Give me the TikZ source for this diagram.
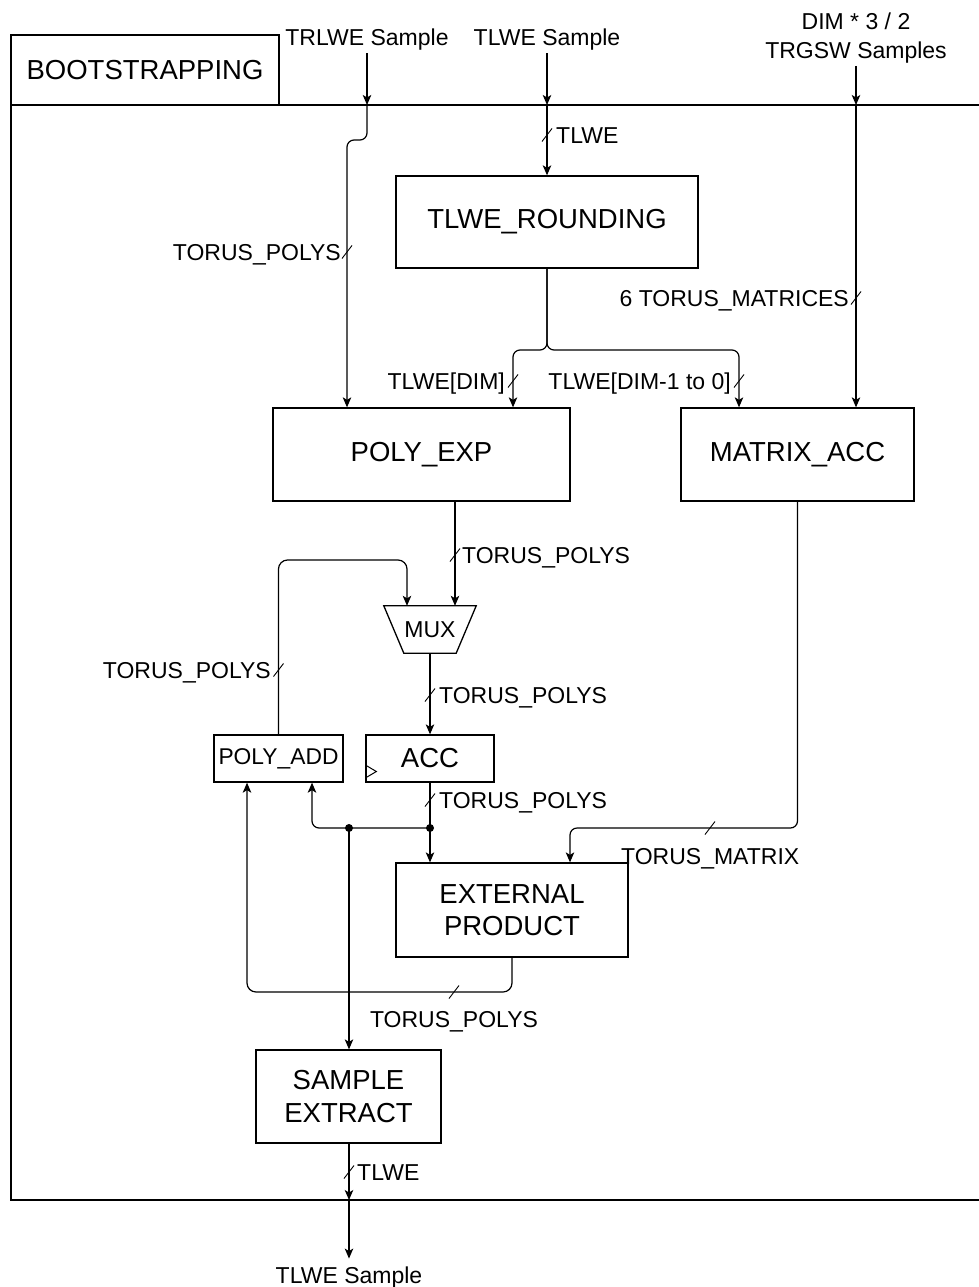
\documentclass[tikz,border=0pt]{standalone}
\usepackage{fontspec}
\setmainfont{Liberation Sans}
\usetikzlibrary{arrows.meta,calc}
\tikzset{
  box/.style={draw, line width=1.3pt, inner sep=0pt, align=center, font=\fontsize{27.5}{32.5}\selectfont},
  sbox/.style={box, font=\fontsize{22.8}{27}\selectfont},
  lbl/.style={inner sep=0pt, font=\fontsize{23}{29}\selectfont, text height=16.5pt, text depth=0pt},
  wire/.style={line width=1.2pt, rounded corners=7pt},
  arr/.style={-{Stealth[length=10pt,width=8.5pt,inset=2.5pt]}},
  dot/.style={circle, fill, inner sep=0pt, minimum size=8pt},
  busmark/.pic={\draw[line width=0.9pt] (-5,6.5) -- (5,-6.5);}
}
\begin{document}
\begin{tikzpicture}[x=1pt,y=-1pt]
\useasboundingbox (0,0) rectangle (979,1287);
% frame
\draw[line width=1.3pt] (979,105) -- (11,105) -- (11,1200) -- (979,1200);
\node[box, minimum width=268pt, minimum height=70pt] (boot) at (145,70) {BOOTSTRAPPING};

% blocks
\node[box, minimum width=302pt, minimum height=92pt] (rounding) at (547,222) {TLWE\_ROUNDING};
\node[box, minimum width=297pt, minimum height=93pt] (polyexp) at (421.5,454.5) {POLY\_EXP};
\node[box, minimum width=233pt, minimum height=93pt] (matrixacc) at (797.5,454.5) {MATRIX\_ACC};
\node[inner sep=0pt, minimum width=92pt, minimum height=47pt, font=\fontsize{23}{27}\selectfont] (mux) at (430,629.5) {MUX};
\draw[line width=1.3pt] (mux.north west) -- (mux.north east) -- ([xshift=-20pt]mux.south east) -- ([xshift=20pt]mux.south west) -- cycle;
\node[sbox, minimum width=129pt, minimum height=47pt] (polyadd) at (278.5,758.5) {POLY\_ADD};
\node[box, minimum width=128pt, minimum height=47pt] (acc) at (430,758.5) {ACC};
\draw[line width=1pt] ([yshift=-6.5pt]acc.west) -- ++(11,6.5) -- ++(-11,6.5);
\node[box, minimum width=232pt, minimum height=94pt] (extprod) at (512,910) {EXTERNAL\\PRODUCT};
\node[box, minimum width=185pt, minimum height=93pt] (sampext) at (348.5,1096.5) {SAMPLE\\EXTRACT};

% inputs
\node[lbl] (trlwe) at (367,37) {TRLWE Sample};
\node[lbl] (tlwein) at (547,37) {TLWE Sample};
\node[inner sep=0pt, align=center, font=\fontsize{23}{29}\selectfont] (trgsw) at (856,38.5) {DIM * 3 / 2\\TRGSW Samples};
\coordinate (inA) at (367,105);
\coordinate (inB) at (547,105);
\coordinate (inC) at (856,105);
\draw[line width=1.2pt, arr, shorten <=8pt] (trlwe.south) -- (inA);
\draw[line width=1.2pt, arr, shorten <=8pt] (tlwein.south) -- (inB);
\draw[line width=1.2pt, arr, shorten <=2pt] (trgsw.south) -- (inC);

% TRLWE -> POLY_EXP
\draw[wire, arr] (inA) -- (367,140) -- (347,140) -- (347,0 |- polyexp.north);
\pic at (347,252) {busmark};
\node[lbl, anchor=east] (l1) at (341,252) {TORUS\_POLYS};

% TLWE -> ROUNDING
\draw[wire, arr] (inB) -- (rounding.north);
\pic at (547,135) {busmark};
\node[lbl, anchor=west] (l2) at (556,135) {TLWE};

% TRGSW -> MATRIX_ACC
\draw[wire, arr] (inC) -- (856,0 |- matrixacc.north);
\pic at (856,298) {busmark};
\node[lbl, anchor=east] (l3) at (849,298) {6 TORUS\_MATRICES};

% ROUNDING split
\draw[wire, arr] (rounding.south) -- (547,350) -- (513,350) -- (513,0 |- polyexp.north);
\draw[wire, arr] (rounding.south) -- (547,350) -- (739,350) -- (739,0 |- matrixacc.north);
\pic at (513,381) {busmark};
\pic at (739,381) {busmark};
\node[lbl, anchor=east] (l4) at (505,381) {TLWE[DIM]};
\node[lbl, anchor=east] (l5) at (731,381) {TLWE[DIM-1 to 0]};

% POLY_EXP -> MUX
\draw[wire, arr] (455,0 |- polyexp.south) -- (455,0 |- mux.north);
\pic at (455,555) {busmark};
\node[lbl, anchor=west] (l6) at (462,555) {TORUS\_POLYS};

% POLY_ADD -> MUX
\draw[wire, arr, rounded corners=9pt] (polyadd.north) -- (278.5,560) -- (407,560) -- (407,0 |- mux.north);
\pic at (278.5,670) {busmark};
\node[lbl, anchor=east] (l7) at (271,670) {TORUS\_POLYS};

% MUX -> ACC
\draw[wire, arr] (mux.south) -- (acc.north);
\pic at (430,695) {busmark};
\node[lbl, anchor=west] (l8) at (439,695) {TORUS\_POLYS};

% ACC -> junctions
\node[dot] (d1) at (430,828) {};
\node[dot] (d2) at (349,828) {};
\draw[wire] (acc.south) -- (d1.center);
\draw[wire, arr] (d1.center) -- (430,0 |- extprod.north);
\draw[wire, arr] (d1.center) -- (312,828) -- (312,0 |- polyadd.south);
\draw[wire, arr] (d2.center) -- (349,0 |- sampext.north);
\pic at (430,800) {busmark};
\node[lbl, anchor=west] (l9) at (439,800) {TORUS\_POLYS};

% MATRIX_ACC -> EXTERNAL PRODUCT
\draw[wire, arr] (matrixacc.south) -- (797.5,828) -- (570,828) -- (570,0 |- extprod.north);
\pic at (710,828) {busmark};
\node[lbl, anchor=west] (l10) at (621,856) {TORUS\_MATRIX};

% EXTERNAL PRODUCT -> POLY_ADD
\draw[wire, arr, rounded corners=9pt] (extprod.south) -- (512,992) -- (247,992) -- (247,0 |- polyadd.south);
\pic at (454,992) {busmark};
\node[lbl] (l11) at (454,1019) {TORUS\_POLYS};

% SAMPLE EXTRACT -> output
\coordinate (outA) at (349,1200);
\node[lbl] (tlweout) at (349,1275) {TLWE Sample};
\draw[wire, arr] (349,0 |- sampext.south) -- (outA);
\draw[wire, arr, shorten >=8pt] (outA) -- (tlweout.north);
\pic at (349,1172) {busmark};
\node[lbl, anchor=west] (l12) at (357,1172) {TLWE};
\end{tikzpicture}
\end{document}
